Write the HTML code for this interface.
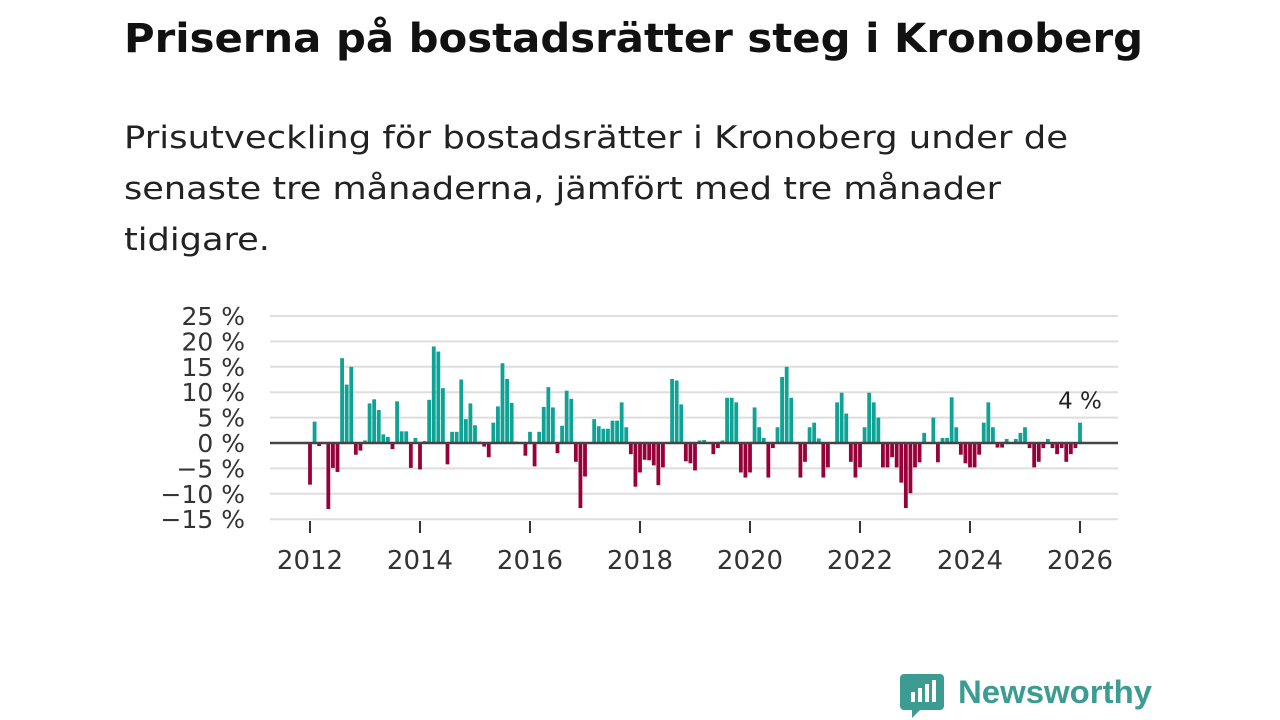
<!DOCTYPE html>
<html><head><meta charset="utf-8"><style>
html,body{margin:0;padding:0;background:#fff;}
svg{display:block;font-family:"DejaVu Sans","Liberation Sans",sans-serif;}
</style></head><body>
<svg id="chart" width="1280" height="720" viewBox="0 0 1280 720">
<text x="124" y="52" font-size="40" font-weight="bold" fill="#111" textLength="1019" lengthAdjust="spacingAndGlyphs">Priserna på bostadsrätter steg i Kronoberg</text>
<g font-size="31" fill="#222">
<text x="124" y="148" textLength="944" lengthAdjust="spacingAndGlyphs">Prisutveckling för bostadsrätter i Kronoberg under de</text>
<text x="124" y="199" textLength="877" lengthAdjust="spacingAndGlyphs">senaste tre månaderna, jämfört med tre månader</text>
<text x="124" y="250" textLength="146" lengthAdjust="spacingAndGlyphs">tidigare.</text>
</g>
<g id="grid"></g>
<g id="ylabels" font-size="25" fill="#333" text-anchor="end"></g>
<g id="bars"></g>
<line id="zeroline" stroke="#444" stroke-width="2.5"/>
<g id="xticks"></g>
<text id="lastlabel" font-size="23" fill="#222" text-anchor="middle"></text>
<g>
<path d="M904 674 h36 a4 4 0 0 1 4 4 v28 a4 4 0 0 1 -4 4 h-20 l-8 8 v-8 h-8 a4 4 0 0 1 -4 -4 v-28 a4 4 0 0 1 4 -4z" fill="#3d9c92"/>
<rect x="911" y="692" width="4" height="10" fill="#fff"/><rect x="918" y="688" width="4" height="14" fill="#fff"/><rect x="925" y="684" width="4" height="18" fill="#fff"/><rect x="932" y="680" width="4" height="22" fill="#fff"/>
<text x="958" y="703" font-size="32" font-weight="bold" fill="#3d9c92" textLength="194" lengthAdjust="spacingAndGlyphs" font-family="Liberation Sans, sans-serif">Newsworthy</text>
</g>
</svg>
<script>
const startYear = 2012;
const values = [
-8.2,4.2,-0.6,0,-13,-4.9,-5.7,16.7,11.5,15,-2.3,-1.5,
0.5,7.8,8.6,6.5,1.7,1.2,-1.2,8.2,2.3,2.3,-4.9,1,
-5.2,0.4,8.5,19,18,10.8,-4.2,2.2,2.2,12.5,4.7,7.8,
3.5,0.3,-0.7,-2.8,4,7.2,15.7,12.6,7.9,0.3,0,-2.5,
2.2,-4.6,2.2,7.1,11,7,-2,3.4,10.3,8.7,-3.7,-12.8,
-6.6,0,4.7,3.3,2.8,2.8,4.4,4.4,8,3.1,-2.2,-8.6,
-5.8,-3.3,-3.4,-4.4,-8.3,-4.8,0.2,12.6,12.3,7.6,-3.6,-4,
-5.4,0.5,0.6,0,-2.2,-1,0.5,8.9,8.9,8,-5.8,-6.8,
-5.8,7,3.1,1,-6.8,-1,3.1,13,15,8.9,0,-6.8,
-3.7,3.1,4,0.9,-6.8,-4.8,0,8,9.9,5.8,-3.7,-6.8,
-4.8,3.1,9.9,8,5,-4.8,-4.8,-2.8,-4.8,-7.8,-12.8,-9.9,
-4.8,-3.8,2,0,5,-3.8,1,1,9,3.1,-2.3,-4,
-4.8,-4.8,-2.3,4,8,3.1,-0.9,-0.9,0.8,0,0.8,2,
3.1,-1,-4.8,-3.7,-1,0.8,-1,-2.2,-1,-3.7,-2.2,-1,
4
];
const yTicks = [25,20,15,10,5,0,-5,-10,-15];
const yTickLabels = ["25 %","20 %","15 %","10 %","5 %","0 %","\u22125 %","\u221210 %","\u221215 %"];
const xTickYears = [2012,2014,2016,2018,2020,2022,2024,2026];

const NS='http://www.w3.org/2000/svg';
const y = v => 443 - v*5.08;
const x = monthIndex => 310 + monthIndex*(770/168);
const yearX = yr => x((yr-startYear)*12);

const grid=document.getElementById('grid'), yl=document.getElementById('ylabels');
yTicks.forEach((t,i)=>{
  const l=document.createElementNS(NS,'line');
  
  
  l.setAttribute('x1',270);l.setAttribute('x2',1118);
  l.setAttribute('y1',y(t));l.setAttribute('y2',y(t));
  l.setAttribute('stroke','#dedede');l.setAttribute('stroke-width','2');
  grid.appendChild(l);
  const tx=document.createElementNS(NS,'text');
  
  
  tx.setAttribute('x',245);tx.setAttribute('y',y(t)+9);
  tx.textContent=yTickLabels[i];
  yl.appendChild(tx);
});
const bars=document.getElementById('bars');
const bw=3.8;
values.forEach((v,i)=>{
  const r=document.createElementNS(NS,'rect');
  
  
  r.setAttribute('x',x(i)-bw/2);r.setAttribute('width',bw);
  r.setAttribute('y',Math.min(y(v),y(0)));
  r.setAttribute('height',Math.abs(y(v)-y(0)));
  r.setAttribute('fill',v>=0?'#10a295':'#98003a');
  bars.appendChild(r);
});
const z=document.getElementById('zeroline');
z.setAttribute('x1',270);z.setAttribute('x2',1118);z.setAttribute('y1',y(0));z.setAttribute('y2',y(0));
const xt=document.getElementById('xticks');
xTickYears.forEach(yr=>{
  const l=document.createElementNS(NS,'line');
  
  
  l.setAttribute('x1',yearX(yr));l.setAttribute('x2',yearX(yr));
  l.setAttribute('y1',521);l.setAttribute('y2',533);
  l.setAttribute('stroke','#333');l.setAttribute('stroke-width','2');
  xt.appendChild(l);
  const t=document.createElementNS(NS,'text');
  
  
  t.setAttribute('x',yearX(yr));t.setAttribute('y',569);
  t.setAttribute('font-size','26');t.setAttribute('fill','#333');t.setAttribute('text-anchor','middle');
  t.textContent=yr;
  xt.appendChild(t);
});
const last=values.length-1;
const ll=document.getElementById('lastlabel');
ll.setAttribute('x',x(last));ll.setAttribute('y',y(values[last])-14);
ll.textContent=Math.round(values[last])+' %';
</script>
</body></html>
